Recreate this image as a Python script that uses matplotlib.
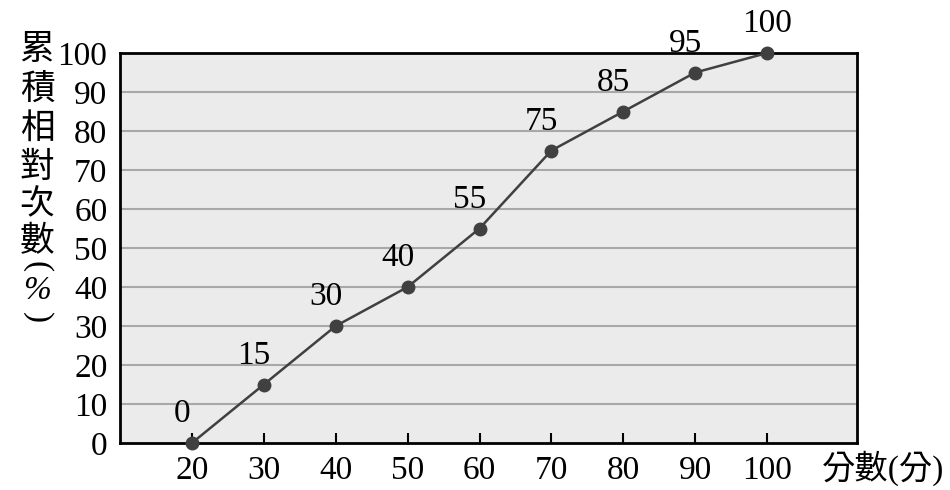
import matplotlib
matplotlib.use('Agg')
import matplotlib.pyplot as plt

plt.rcParams['font.family'] = ['Liberation Serif', 'Noto Sans CJK TC', 'DejaVu Sans']

scores = [20, 30, 40, 50, 60, 70, 80, 90, 100]
cum_pct = [0, 15, 30, 40, 55, 75, 85, 95, 100]
y_ticks = [0, 10, 20, 30, 40, 50, 60, 70, 80, 90, 100]
ylabel_chars = ['累', '積', '相', '對', '次', '數']
ylabel_unit = ['(', '%', ')']
xlabel_text = '分數(分)'

fig = plt.figure(figsize=(9.5, 4.9), dpi=100)
ax = fig.add_axes([0.1263, 0.0959, 0.7758, 0.7959])
ax.set_facecolor('#ebebeb')

ax.set_xlim(10, 112.5)
ax.set_ylim(0, 100)

for v in y_ticks[1:-1]:
    ax.axhline(v, color='#a8a8a8', linewidth=1.5, zorder=1)

ax.plot(scores, cum_pct, color='#404040', linewidth=1.8, marker='o',
        markersize=9, markerfacecolor='#404040', markeredgecolor='#404040',
        zorder=3, clip_on=False)

for x, y in zip(scores, cum_pct):
    dx = 0 if y == 100 else -7
    ax.annotate(str(y), (x, y), xytext=(dx, 21), textcoords='offset points',
                ha='center', va='center', fontsize=24, color='black')

ax.set_xticks(scores)
ax.set_xticklabels([str(s) for s in scores], fontsize=24)
ax.set_yticks(y_ticks)
ax.set_yticklabels([str(v) for v in y_ticks], fontsize=24)
ax.tick_params(axis='x', direction='in', length=7, width=1.5, pad=9, color='black')
ax.tick_params(axis='y', length=0, pad=9)

for s in ax.spines.values():
    s.set_linewidth(2)
    s.set_color('black')

# vertical stacked y label
ys = [0.897, 0.816, 0.737, 0.656, 0.580, 0.505]
for ch, yy in zip(ylabel_chars, ys):
    fig.text(0.039, yy, ch, ha='center', va='center', fontsize=25)

# unit "(%)" written vertically: parens turned sideways
fig.text(0.039, 0.457, ylabel_unit[0], ha='center', va='center', fontsize=24,
         rotation=270, rotation_mode='anchor')
fig.text(0.039, 0.407, ylabel_unit[1], ha='center', va='center', fontsize=24,
         style='italic')
fig.text(0.039, 0.352, ylabel_unit[2], ha='center', va='center', fontsize=24,
         rotation=270, rotation_mode='anchor')

fig.text(0.929, 0.045, xlabel_text, ha='center', va='center', fontsize=24)

fig.savefig('out.png', dpi=100)
